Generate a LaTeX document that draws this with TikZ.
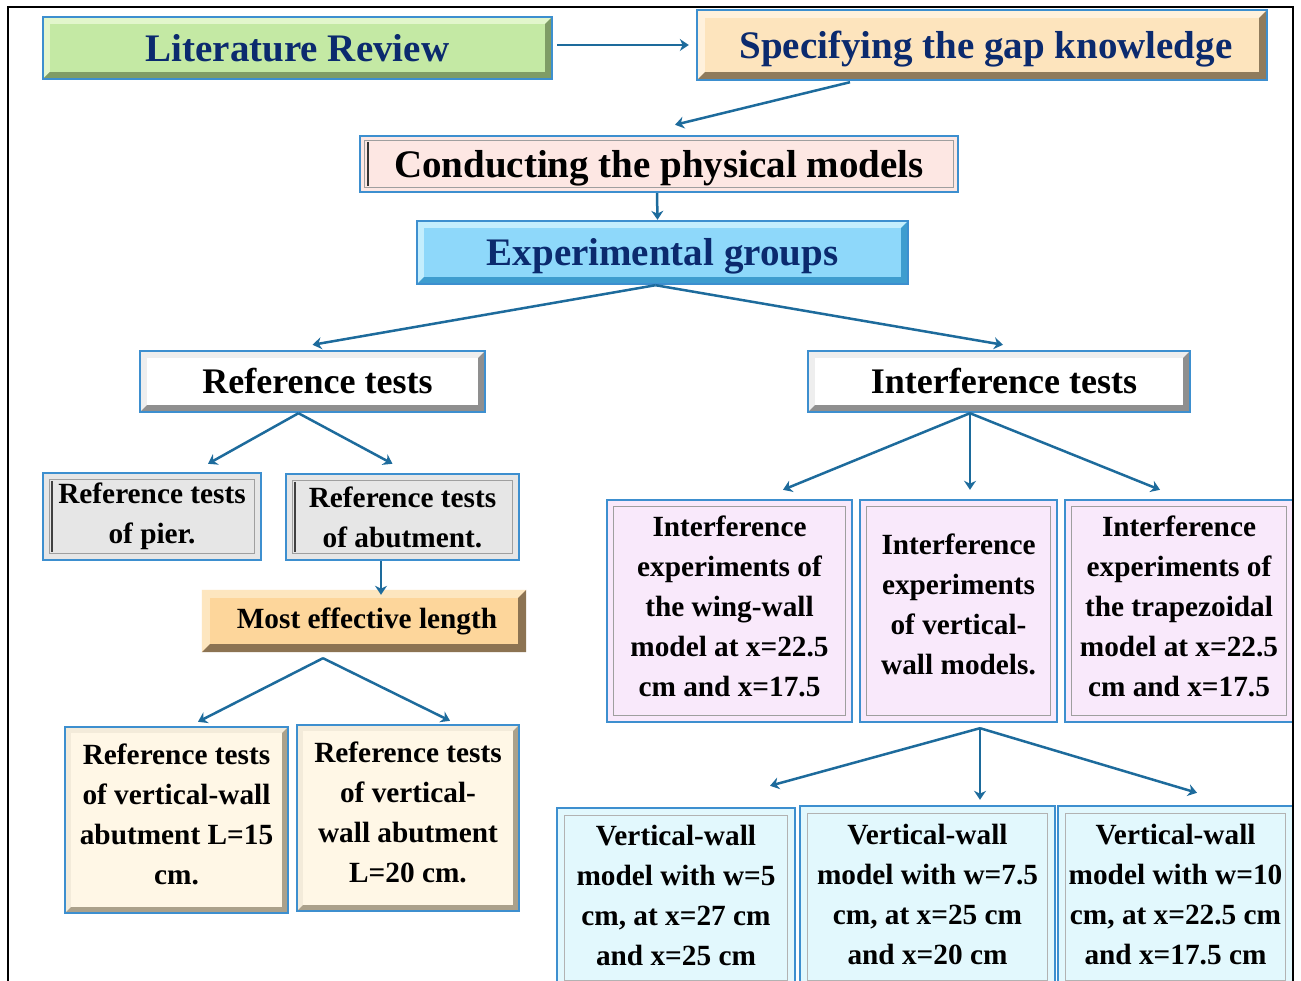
\documentclass[tikz,border=0pt]{standalone}
\usepackage{fontspec}
\setmainfont{Liberation Serif}
\usetikzlibrary{arrows.meta}
\definecolor{bordc}{HTML}{3D8FCF}
\definecolor{arrowc}{HTML}{1D6B9C}
\definecolor{navy}{HTML}{0B2A6E}
\definecolor{greenF}{HTML}{C4E9A4}
\definecolor{greenL}{HTML}{E2F6CC}
\definecolor{greenD}{HTML}{7F9C66}
\definecolor{peachF}{HTML}{FDE4BD}
\definecolor{peachL}{HTML}{FFF1DC}
\definecolor{peachD}{HTML}{8F7B5C}
\definecolor{pinkF}{HTML}{FDE7E3}
\definecolor{blueF}{HTML}{8ED8FA}
\definecolor{blueL}{HTML}{C4EEFD}
\definecolor{blueD}{HTML}{3E9DCF}
\definecolor{whiteL}{HTML}{EEEEEE}
\definecolor{whiteD}{HTML}{8F8F8F}
\definecolor{grayF}{HTML}{E6E6E6}
\definecolor{orangeF}{HTML}{FDD69B}
\definecolor{orangeL}{HTML}{FDE6BF}
\definecolor{orangeD}{HTML}{8C7352}
\definecolor{lavF}{HTML}{F9E9FB}
\definecolor{creamF}{HTML}{FFF7E6}
\definecolor{creamL}{HTML}{F3EBDA}
\definecolor{creamD}{HTML}{ABA18B}
\definecolor{cyanF}{HTML}{E2F8FD}
\tikzset{
  base/.style={inner sep=0pt, align=center},
  big/.style={base, font=\fontsize{39}{44}\selectfont\bfseries, text height=27pt, text depth=0pt},
  mid/.style={base, font=\fontsize{36}{40}\selectfont\bfseries},
  small/.style={base, font=\fontsize{29.3}{40}\selectfont\bfseries},
  arr/.style={draw=arrowc, line width=2.5pt, -{Stealth[length=9pt,width=12pt]}},
  bord/.style={draw=bordc, line width=2pt},
  inl/.style={draw=gray!75, line width=1.2pt},
}
\newcommand\bevbox[4]{%
  \fill[#3] (#1.north west) -- (#1.north east) -- ([shift={(-#2,#2)}]#1.north east) -- ([shift={(#2,#2)}]#1.north west) -- ([shift={(#2,-#2)}]#1.south west) -- (#1.south west) -- cycle;
  \fill[#4] (#1.south east) -- (#1.north east) -- ([shift={(-#2,#2)}]#1.north east) -- ([shift={(-#2,-#2)}]#1.south east) -- ([shift={(#2,-#2)}]#1.south west) -- (#1.south west) -- cycle;
}
\newcommand\bordbox[1]{\draw[bord] (#1.north west) rectangle (#1.south east);}
\newcommand\innerbox[3]{\draw[#3] ([shift={(#2,#2)}]#1.north west) rectangle ([shift={(-#2,-#2)}]#1.south east);}
\newcommand\lift[1]{\rule[-#1pt]{0pt}{#1pt}}
\begin{document}
\begin{tikzpicture}[x=1pt,y=-1pt]
\clip (0,0) rectangle (1301,981);
\fill[white] (0,0) rectangle (1301,981);

% top row
\node[big, text=navy, fill=greenF, minimum width=509pt, minimum height=62pt] (lit) at (297.5,48) {Literature Review};
\bevbox{lit}{7}{greenL}{greenD}\bordbox{lit}
\node[big, text=navy, fill=peachF, minimum width=570pt, minimum height=70pt] (spec) at (982,45) {\hspace*{8pt}Specifying the gap knowledge};
\bevbox{spec}{8}{peachL}{peachD}\bordbox{spec}
\node[big, fill=pinkF, minimum width=598pt, minimum height=56pt] (cond) at (659,164) {Conducting the physical models};
\innerbox{cond}{5}{inl}
\draw[black!80, line width=2.5pt] ([shift={(8,6)}]cond.north west) -- ([shift={(8,-6)}]cond.south west);
\bordbox{cond}
\node[big, text=navy, fill=blueF, minimum width=491pt, minimum height=63pt] (exp) at (662.5,252.5) {Experimental groups};
\bevbox{exp}{7}{blueL}{blueD}\bordbox{exp}

% second level
\node[mid, fill=white, minimum width=345pt, minimum height=61pt] (reft) at (312.5,381.5) {\hspace*{10pt}Reference tests};
\bevbox{reft}{7}{whiteL}{whiteD}\bordbox{reft}
\node[mid, fill=white, minimum width=382pt, minimum height=61pt] (intt) at (999,381.5) {\hspace*{10pt}Interference tests};
\bevbox{intt}{7}{whiteL}{whiteD}\bordbox{intt}

% reference branch
\node[small, fill=grayF, minimum width=218pt, minimum height=87pt, yshift=-4pt] (pier) at (152,512.5) {Reference tests\\of pier.};
\innerbox{pier}{7}{inl}
\draw[black!75, line width=2.5pt] ([shift={(9,8)}]pier.north west) -- ([shift={(9,-8)}]pier.south west);
\bordbox{pier}
\node[small, fill=grayF, minimum width=233pt, minimum height=86pt, yshift=-4pt] (abut) at (402.5,513) {Reference tests\\of abutment.};
\innerbox{abut}{7}{inl}
\draw[black!75, line width=2.5pt] ([shift={(9,8)}]abut.north west) -- ([shift={(9,-8)}]abut.south west);
\bordbox{abut}
\node[small, fill=orangeF, minimum width=324pt, minimum height=62pt] (most) at (364,621) {\hspace*{6pt}Most effective length\lift{4}};
\bevbox{most}{8}{orangeL}{orangeD}
\node[small, fill=creamF, minimum width=223pt, minimum height=186pt] (r15) at (176.5,820) {Reference tests\\of vertical-wall\\abutment L=15\\cm.\lift{12}};
\bevbox{r15}{6}{creamL}{creamD}\bordbox{r15}
\node[small, fill=creamF, minimum width=222pt, minimum height=186pt] (r20) at (408,818) {Reference tests\\of vertical-\\wall abutment\\L=20 cm.\lift{12}};
\bevbox{r20}{6}{creamL}{creamD}\bordbox{r20}

% interference branch
\node[small, fill=lavF, minimum width=245pt, minimum height=222pt] (ww) at (729.5,611) {Interference\\experiments of\\the wing-wall\\model at x=22.5\\cm and x=17.5\lift{9}};
\innerbox{ww}{7}{inl}\bordbox{ww}
\node[small, fill=lavF, minimum width=197pt, minimum height=222pt] (vw) at (958.5,611) {Interference\\experiments\\of vertical-\\wall models.\lift{14}};
\innerbox{vw}{7}{inl}\bordbox{vw}
\node[small, fill=lavF, minimum width=228pt, minimum height=222pt] (tz) at (1179,611) {Interference\\experiments of\\the trapezoidal\\model at x=22.5\\cm and x=17.5\lift{9}};
\innerbox{tz}{7}{inl}\bordbox{tz}

\node[small, fill=cyanF, minimum width=238pt, minimum height=180pt] (v5) at (676,898) {Vertical-wall\\model with w=5\\cm, at x=27 cm\\and x=25 cm\lift{6}};
\innerbox{v5}{8}{draw=gray!60, line width=1pt}\bordbox{v5}
\node[small, fill=cyanF, minimum width=255pt, minimum height=182pt] (v75) at (927.5,897) {Vertical-wall\\model with w=7.5\\cm, at x=25 cm\\and x=20 cm\lift{6}};
\innerbox{v75}{8}{draw=gray!60, line width=1pt}\bordbox{v75}
\node[small, fill=cyanF, minimum width=235pt, minimum height=182pt] (v10) at (1175.5,897) {Vertical-wall\\model with w=10\\cm, at x=22.5 cm\\and x=17.5 cm\lift{6}};
\innerbox{v10}{8}{draw=gray!60, line width=1pt}\bordbox{v10}

% connectors
\draw[arr] ([shift={(5,-3)}]lit.east) -- ([shift={(-8,0)}]spec.west);
\draw[arr] ([shift={(-132,2)}]spec.south) -- ([shift={(16,-11)}]cond.north);
\draw[arr] ([shift={(-2,1)}]cond.south) -- ([shift={(-5,-1)}]exp.north);
\coordinate (eap) at ([shift={(-7,1)}]exp.south);
\draw[arr] (eap) -- ([shift={(0,-6)}]reft.north);
\draw[arr] (eap) -- ([shift={(4,-6)}]intt.north);
\coordinate (rap) at ([shift={(-14,1)}]reft.south);
\draw[arr] (rap) -- ([shift={(56,-9)}]pier.north);
\draw[arr] (rap) -- ([shift={(-10,-10)}]abut.north);
\draw[arr] ([shift={(-21.5,1)}]abut.south) -- ([shift={(17,5)}]most.north);
\coordinate (map) at ([shift={(-41,6)}]most.south);
\draw[arr] (map) -- ([shift={(21.5,-5)}]r15.north);
\draw[arr] (map) -- ([shift={(42,-4)}]r20.north);
\coordinate (iap) at ([shift={(-29,1)}]intt.south);
\draw[arr] (iap) -- ([shift={(53.5,-10)}]ww.north);
\draw[arr] (iap) -- ([shift={(11.5,-10)}]vw.north);
\draw[arr] (iap) -- ([shift={(-19,-10)}]tz.north);
\coordinate (vap) at ([shift={(21.5,6)}]vw.south);
\draw[arr] (vap) -- ([shift={(94,-22)}]v5.north);
\draw[arr] (vap) -- ([shift={(52.5,-6)}]v75.north);
\draw[arr] (vap) -- ([shift={(21.5,-13)}]v10.north);

% frame
\draw[black, line width=2pt] (8,985) -- (8,7) -- (1293,7) -- (1293,985);
\end{tikzpicture}
\end{document}
